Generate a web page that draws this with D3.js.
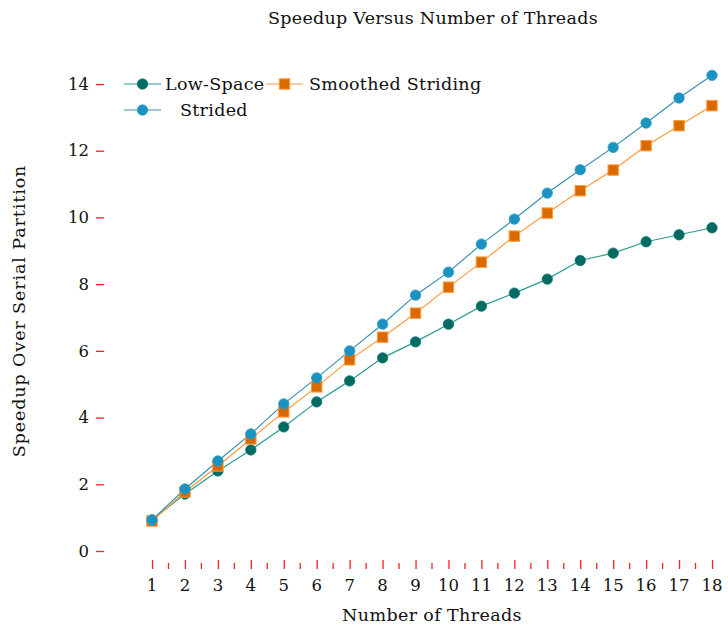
<!DOCTYPE html>
<html><head><meta charset="utf-8">
<script src="https://cdn.jsdelivr.net/npm/d3@7"></script>
<style>body{margin:0;background:#fff}svg{display:block}</style>
</head><body>
<script>
const threads = [1,2,3,4,5,6,7,8,9,10,11,12,13,14,15,16,17,18];
const lowSpace = [0.93,1.71,2.40,3.03,3.72,4.47,5.10,5.79,6.27,6.80,7.34,7.73,8.15,8.71,8.93,9.27,9.48,9.69];
const smoothed = [0.90,1.77,2.55,3.36,4.17,4.92,5.73,6.41,7.13,7.91,8.66,9.44,10.13,10.80,11.42,12.15,12.75,13.35];
const strided  = [0.93,1.86,2.70,3.51,4.41,5.19,6.00,6.80,7.67,8.36,9.20,9.95,10.73,11.43,12.10,12.83,13.58,14.26];
const yTicks = [0,2,4,6,8,10,12,14];
const title = "Speedup Versus Number of Threads";
const xLabel = "Number of Threads";
const yLabel = "Speedup Over Serial Partition";

const FONT = "DejaVu Serif";
const W=728,H=626;
const svg=d3.select("body").append("svg").attr("width",W).attr("height",H)
  .attr("font-family",FONT);
const x=d3.scaleLinear().domain([1,18]).range([152,712]);
const y=d3.scaleLinear().domain([0,14]).range([551,84]);

const series=[
 {name:"Low-Space",data:lowSpace,line:"#2a9d92",fill:"#006b62",stroke:"#0d7a70",shape:"circle"},
 {name:"Smoothed Striding",data:smoothed,line:"#ff9a3c",fill:"#d96a00",stroke:"#ff9a3c",shape:"square"},
 {name:"Strided",data:strided,line:"#3a8fb0",fill:"#1a93c0",stroke:"#2a9bc6",shape:"circle"}
];

function txt(sel,size,ls){ sel.attr("font-family",FONT).attr("font-size",size).attr("fill","#111");
 if(ls) sel.style("letter-spacing",ls+"px"); return sel; }

// y ticks
const ya=svg.append("g").attr("transform","translate(104,0)")
 .call(d3.axisLeft(y).tickValues(yTicks).tickSize(8).tickPadding(7));
ya.attr("font-family",FONT).attr("font-size",16.5);
ya.select(".domain").remove();
ya.selectAll("line").attr("stroke","#ff2020").attr("stroke-width",1.3);
ya.selectAll("text").attr("fill","#111");

// x ticks
const xa=svg.append("g").attr("transform","translate(0,569)")
 .call(d3.axisTop(x).tickValues(threads).tickSize(9).tickFormat(""));
xa.select(".domain").remove();
xa.selectAll("line").attr("stroke","#ff2020").attr("stroke-width",1.3);
const minor=d3.range(1.5,18,1);
svg.append("g").selectAll("line").data(minor).join("line")
 .attr("x1",d=>x(d)).attr("x2",d=>x(d)).attr("y1",563).attr("y2",569)
 .attr("stroke","#ff2020").attr("stroke-width",1.3);
txt(svg.append("g").selectAll("text").data(threads).join("text")
 .attr("x",d=>x(d)).attr("y",591).attr("text-anchor","middle"),16.5).text(d=>d);

// lines
const line=d3.line().x((d,i)=>x(threads[i])).y(d=>y(d));
function marker(g,s,cx,cy){
 if(s.shape==="circle"){
  g.append("circle").attr("cx",cx).attr("cy",cy).attr("r",5.2).attr("fill",s.fill).attr("stroke",s.stroke).attr("stroke-width",0.8);
 } else {
  g.append("rect").attr("x",cx-5.2).attr("y",cy-5.2).attr("width",10.4).attr("height",10.4).attr("fill",s.fill).attr("stroke",s.stroke).attr("stroke-width",1);
 }
}
series.forEach(s=>{
 svg.append("path").datum(s.data).attr("d",line).attr("fill","none").attr("stroke",s.line).attr("stroke-width",1.2);
});
series.forEach(s=>{
 const g=svg.append("g");
 s.data.forEach((v,i)=>marker(g,s,x(threads[i]),y(v)));
});

// legend
const leg=[
 {s:series[0],lx:124,ly:84,tx:165},
 {s:series[1],lx:266,ly:84,tx:309},
 {s:series[2],lx:124,ly:110,tx:180}
];
leg.forEach(L=>{
 const g=svg.append("g");
 g.append("line").attr("x1",L.lx).attr("x2",L.lx+37).attr("y1",L.ly).attr("y2",L.ly).attr("stroke",L.s.line).attr("stroke-width",1.2);
 marker(g,L.s,L.lx+18.5,L.ly);
 txt(g.append("text").attr("x",L.tx).attr("y",L.ly+6),17.5,0.3).text(L.s.name);
});

// titles
txt(svg.append("text").attr("x",433).attr("y",24).attr("text-anchor","middle"),17.5,0.27).text(title);
txt(svg.append("text").attr("x",432).attr("y",621).attr("text-anchor","middle"),17.5,0.37).text(xLabel);
txt(svg.append("text").attr("transform","translate(25,311) rotate(-90)").attr("text-anchor","middle"),17.5,0.9).text(yLabel);
</script>
</body></html>
